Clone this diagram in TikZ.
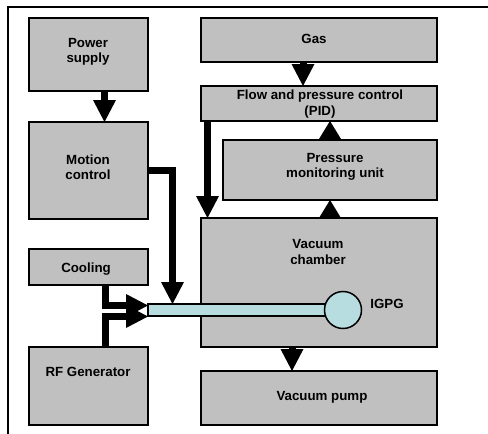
\documentclass[tikz,border=0pt]{standalone}
\usepackage{fontspec}
\setmainfont{Liberation Sans}
\usetikzlibrary{arrows.meta}
\definecolor{boxgray}{RGB}{192,192,192}
\definecolor{tubecol}{RGB}{183,221,224}
\begin{document}
\begin{tikzpicture}[x=1pt,y=-1pt,
  box/.style={draw=black, fill=boxgray, line width=1.5pt, inner sep=0pt, outer sep=0pt, anchor=north west, rectangle},
  lbl/.style={font=\fontsize{13.3}{15.5}\selectfont\bfseries, align=center, inner sep=0pt},
  arr/.style={line width=7pt, line join=miter, -{Triangle[width=23pt,length=22pt,line width=0pt]}},
  arrS/.style={line width=7pt, -{Triangle[width=22pt,length=18pt,line width=0pt]}},
  tubeS/.style={draw=black, fill=tubecol, line width=1.5pt, inner sep=0pt, outer sep=0pt}]
\useasboundingbox (0,0) rectangle (488,434);
\fill[white] (0,0) rectangle (488,434);
% frame
\draw[line width=2pt] (488,7) -- (8,7) -- (8,434);
% left column
\node[box, minimum width=119pt, minimum height=73pt] (ps) at (29,18) {};
\node[box, minimum width=119pt, minimum height=97pt] (mc) at (29,122) {};
\node[box, minimum width=119pt, minimum height=36pt] (cool) at (29,249) {};
\node[box, minimum width=119pt, minimum height=78pt] (rf) at (29,347) {};
% right column
\node[box, minimum width=236pt, minimum height=44pt] (gas) at (201,18) {};
\node[box, minimum width=236pt, minimum height=35pt] (flow) at (201,86) {};
\node[box, minimum width=214pt, minimum height=60pt] (pm) at (223,140) {};
\node[box, minimum width=236pt, minimum height=129pt] (vc) at (201,218) {};
\node[box, minimum width=236pt, minimum height=54pt] (vp) at (201,371) {};
% labels
\node[lbl] (pst) at (88,52) {Power\\supply};
\node[lbl] (mct) at (88,167) {Motion\\control};
\node[lbl] (coolt) at (86,269) {Cooling};
\node[lbl] (rft) at (88,371.5) {RF Generator};
\node[lbl] (gast) at (314,38.5) {Gas};
\node[lbl] (flowt) at (320,104) {Flow and pressure control\\(PID)};
\node[lbl] (pmt) at (335,167) {Pressure\\monitoring unit};
\node[lbl] (vct) at (318,252) {Vacuum\\chamber};
\node[lbl] (vpt) at (322,397) {Vacuum pump};
% tube and gauge
\node[tubeS, rectangle, minimum width=178pt, minimum height=12pt, anchor=west] (tube) at (148,310) {};
\node[tubeS, circle, minimum size=37pt] (igpg) at (343,310) {};
\node[lbl] (igpgt) at (387,304) {IGPG};
% connectors
\draw[arr] ([xshift=16pt]ps.south) -- ([xshift=16pt]mc.north);
\draw[arr] (mc.east) -| ([xshift=24.5pt]tube.north west);
\draw[arr] ([xshift=6.5pt]flow.south west) -- ([xshift=6.5pt]vc.north west);
\draw[arr] ([xshift=-16pt]gas.south) -- ([xshift=-16pt]flow.north);
\draw[arrS] (pm.north) -- (pm.north |- flow.south);
\draw[arrS] (pm.south |- vc.north) -- (pm.south);
\draw[arr] ([xshift=-27pt]vc.south) -- ([xshift=-27pt]vp.north);
\draw[arr] ([xshift=16.5pt]cool.south) |- ([yshift=-1.5pt]tube.north west);
\draw[arr] ([xshift=16.5pt]rf.north) |- ([yshift=-0.5pt]tube.south west);
\end{tikzpicture}
\end{document}
